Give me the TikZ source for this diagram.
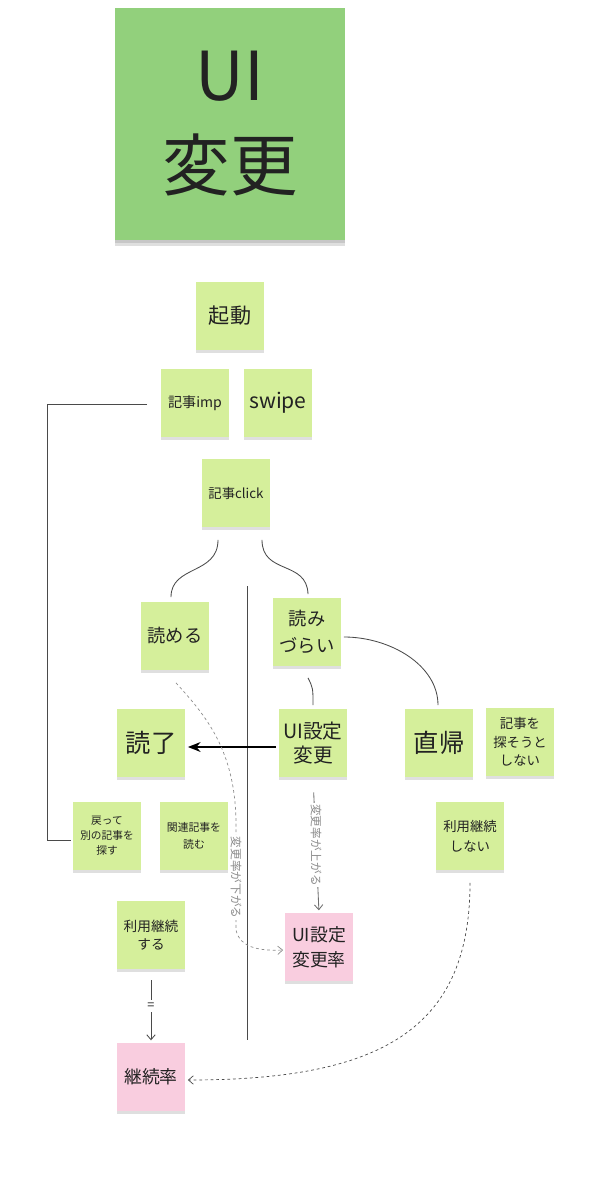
\documentclass[tikz,border=0pt]{standalone}
\usepackage{fontspec}
\setmainfont{Noto Sans CJK JP}
\usetikzlibrary{arrows.meta,calc,positioning,shadows}
\definecolor{bigsticky}{HTML}{92D07C}
\definecolor{sticky}{HTML}{D5EF9B}
\definecolor{pinksticky}{HTML}{F9CDDF}
\definecolor{ink}{HTML}{222222}
\definecolor{line}{HTML}{4A4A4A}
\definecolor{hint}{HTML}{8C8C8C}
\newcommand{\notesize}[2]{\fontsize{#1}{#2}\selectfont}

\tikzset{
  stickynote/.style={fill=sticky,text=ink,minimum size=1.68cm,inner sep=1pt,align=center,
    drop shadow={opacity=.25,shadow xshift=0pt,shadow yshift=-2.2pt}},
  pinknote/.style={stickynote,fill=pinksticky},
  bignote/.style={stickynote,fill=bigsticky,minimum width=5.75cm,minimum height=5.8cm,
    drop shadow={opacity=.25,shadow xshift=0pt,shadow yshift=-4pt}},
  conn/.style={draw=line,line width=0.6pt},
  hintline/.style={draw=hint,line width=0.5pt,dash pattern=on 2pt off 2pt},
  tag/.style={fill=white,text=hint,inner sep=1pt,rotate=-90,font=\notesize{8.3pt}{9pt}},
  thin tip/.style={-{Straight Barb[length=3.5pt,width=6pt]}},
}

\begin{document}
\begin{tikzpicture}[x=0.025cm,y=-0.025cm]
\useasboundingbox (0,0) rectangle (599,1200);

% notes
\node[bignote,font=\notesize{48pt}{64pt}] (theme) at (230,124) {UI\\変更};
\node[stickynote,font=\notesize{15pt}{18pt}] (kidou) at (230,316) {起動};
\node[stickynote,font=\notesize{10pt}{12pt}] (kimp) at (195,403) {記事imp};
\node[stickynote,font=\notesize{15pt}{18pt}] (swipe) at (278,403) {swipe};
\node[stickynote,font=\notesize{9.5pt}{12pt}] (kclick) at (236,493) {記事click};
\node[stickynote,font=\notesize{13pt}{16pt}] (yomeru) at (175,636) {読める};
\node[stickynote,font=\notesize{13pt}{19pt}] (yomizurai) at (307,632) {読み\\づらい};
\node[stickynote,font=\notesize{18pt}{20pt}] (dokuryo) at (151,743) {読了};
\node[stickynote,font=\notesize{14pt}{16.5pt}] (uis) at (313,743) {UI設定\\変更};
\node[stickynote,font=\notesize{18pt}{20pt}] (chokki) at (439,743) {直帰};
\node[stickynote,font=\notesize{9.5pt}{13pt}] (sagasanai) at (520,742) {記事を\\探そうと\\しない};
\node[stickynote,font=\notesize{7.6pt}{10.6pt}] (modotte) at (107,836) {戻って\\別の記事を\\探す};
\node[stickynote,font=\notesize{7.7pt}{12pt}] (kanren) at (194,836) {関連記事を\\読む};
\node[stickynote,font=\notesize{9.5pt}{14pt}] (shinai) at (470,836) {利用継続\\しない};
\node[stickynote,font=\notesize{9.7pt}{13pt}] (suru) at (151,935) {利用継続\\する};
\node[pinknote,font=\notesize{12.7pt}{17.7pt}] (uisr) at (319,947) {UI設定\\変更率};
\node[pinknote,font=\notesize{12.7pt}{15pt}] (keizoku) at (151,1077) {継続率};

% divider
\draw[line,line width=0.7pt] (247,586) -- (247,1040);

% connectors
\draw[conn] ($(kimp.west)+(-14,1)$) -- (47,404) |- ($(modotte.west)+(-2,4)$);
\draw[conn] ($(kclick.south)+(-18,13)$) .. controls (218,575) and (171,565) .. ($(yomeru.north)+(-4,-5)$);
\draw[conn] ($(kclick.south)+(26,13)$) .. controls (262,575) and (307,560) .. ($(yomizurai.north)+(1,-4)$);
\draw[conn] ($(yomizurai.east)+(3,5)$) .. controls (390,637) and (438,665) .. ($(chokki.north)+(-1,-4)$);
\draw[conn] ($(yomizurai.south)+(1,12)$) .. controls (313,688) .. ($(uis.north)+(0,-4)$);
\draw[black,line width=1.4pt,-{Stealth[length=9pt,width=7pt]}] ($(uis.west)+(-3,4)$) -- ($(dokuryo.east)+(3,4)$);
\draw[conn,draw=line!80,thin tip,shorten <=11pt,shorten >=2pt] (uis.south) -- node[tag] {変更率が上がる} (uisr.north);
\draw[conn,thin tip,shorten <=8pt,shorten >=2pt] (suru.south) -- node[fill=white,text=ink,inner sep=2pt,font=\notesize{9pt}{10pt}] {=} (keizoku.north);
\draw[hintline,thin tip] ($(yomeru.south)+(1,13)$) .. controls (205,715) and (236,750) .. (236,825)
  -- node[tag] {変更率が下がる} (236,930) .. controls (240,948) and (260,951) .. ($(uisr.west)+(-2,3)$);
\draw[hintline,draw=line,thin tip] ($(shinai.south)+(0,13)$) .. controls (470,1030) and (380,1080) .. ($(keizoku.east)+(3,3)$);
\end{tikzpicture}
\end{document}
